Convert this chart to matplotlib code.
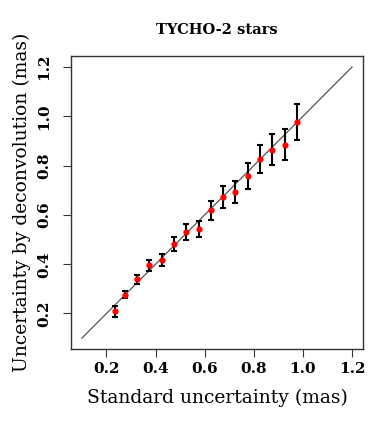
import numpy as np
import matplotlib.pyplot as plt

plt.rcParams['font.family'] = ['DejaVu Serif']

# data
std_unc = [0.235, 0.275, 0.325, 0.375, 0.425, 0.475, 0.525, 0.575,
           0.625, 0.675, 0.725, 0.775, 0.825, 0.875, 0.925, 0.975]
deconv_unc = [0.209, 0.277, 0.338, 0.395, 0.416, 0.482, 0.531, 0.542,
              0.619, 0.673, 0.692, 0.758, 0.827, 0.865, 0.885, 0.977]
err = [0.022, 0.016, 0.018, 0.022, 0.024, 0.029, 0.033, 0.033,
       0.039, 0.045, 0.045, 0.052, 0.058, 0.062, 0.064, 0.073]
line_ends = [0.1, 1.2]
ticks = [0.2, 0.4, 0.6, 0.8, 1.0, 1.2]

fig = plt.figure(figsize=(3.78, 4.22), dpi=100)
ax = fig.add_axes([0.188, 0.173, 0.772, 0.694])

ax.plot(line_ends, line_ends, color='#555555', lw=0.9)
ax.errorbar(std_unc, deconv_unc, yerr=err, fmt='none', ecolor='black',
            elinewidth=1.5, capsize=2.5, capthick=1.5)
ax.scatter(std_unc, deconv_unc, s=12, color='red', zorder=3)

ax.set_xlim(0.056, 1.244)
ax.set_ylim(0.056, 1.244)
ax.set_xticks(ticks)
ax.set_yticks(ticks)
ax.set_xticklabels([f'{t:.1f}' for t in ticks], fontweight='bold', fontsize=11)
ax.set_yticklabels([f'{t:.1f}' for t in ticks], fontweight='bold', fontsize=11,
                   rotation=90, va='center')
ax.tick_params(length=6, width=0.8, color='#333333')
ax.tick_params(axis='y', pad=8)
for s in ax.spines.values():
    s.set_linewidth(1.0)
    s.set_color('#333333')

ax.set_title('TYCHO-2 stars', fontweight='bold', fontsize=10.5, pad=16)
ax.set_xlabel('Standard uncertainty (mas)', fontsize=13.5, labelpad=9)
ax.set_ylabel('Uncertainty by deconvolution (mas)', fontsize=13.5, labelpad=5)

fig.savefig('out.png', dpi=100)
